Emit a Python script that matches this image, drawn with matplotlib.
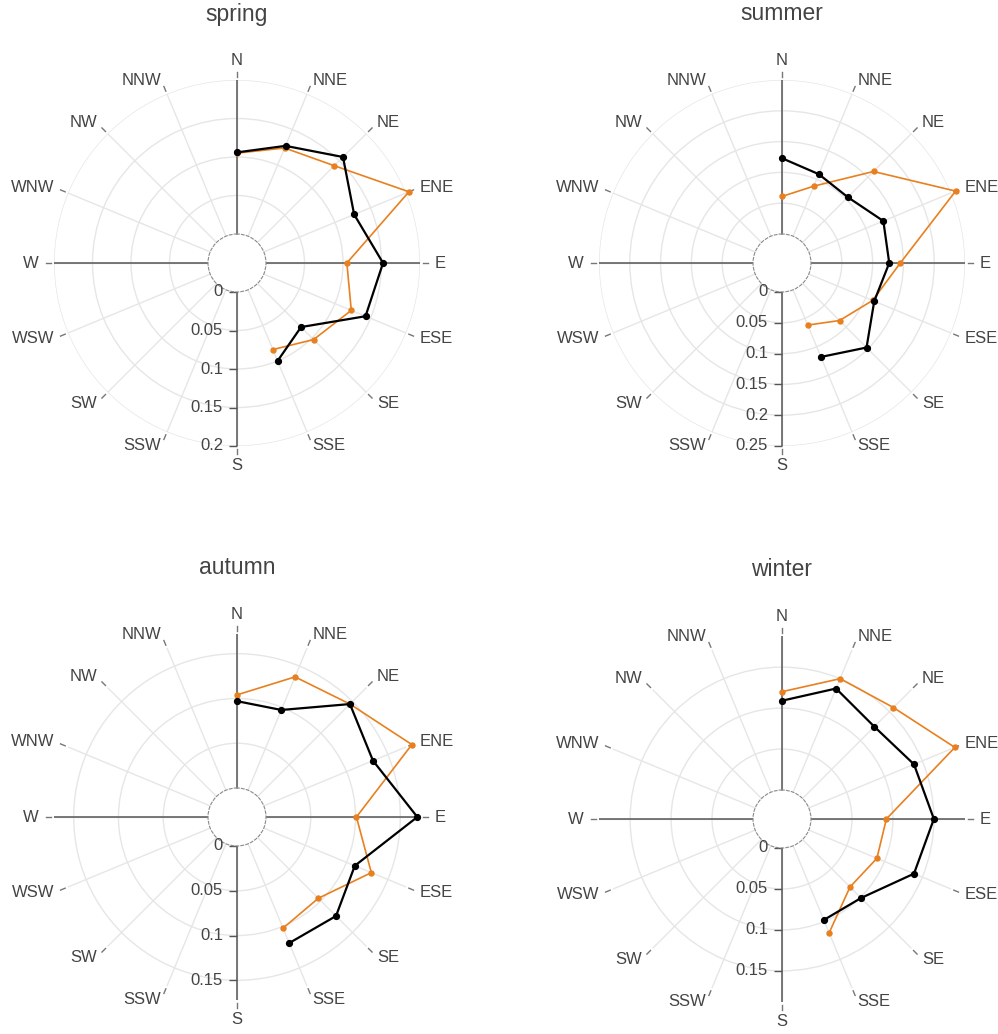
import numpy as np
import matplotlib.pyplot as plt
from matplotlib.markers import TICKLEFT

plt.rcParams['font.family'] = ['Liberation Sans', 'DejaVu Sans']

# compass directions (clockwise from north) and the ones that carry data
directions = ['N', 'NNE', 'NE', 'ENE', 'E', 'ESE', 'SE', 'SSE',
              'S', 'SSW', 'SW', 'WSW', 'W', 'WNW', 'NW', 'NNW']
measured = ['N', 'NNE', 'NE', 'ENE', 'E', 'ESE', 'SE', 'SSE']

seasons = ['spring', 'summer', 'autumn', 'winter']

spring_black = [0.106, 0.127, 0.157, 0.127, 0.152, 0.143, 0.080, 0.100]
spring_orange = [0.105, 0.124, 0.141, 0.204, 0.105, 0.123, 0.103, 0.084]
summer_black = [0.123, 0.109, 0.104, 0.131, 0.127, 0.115, 0.147, 0.118]
summer_orange = [0.061, 0.088, 0.163, 0.258, 0.145, 0.112, 0.085, 0.062]
autumn_black = [0.097, 0.097, 0.146, 0.132, 0.169, 0.110, 0.124, 0.120]
autumn_orange = [0.104, 0.137, 0.146, 0.179, 0.101, 0.130, 0.096, 0.102]
winter_black = [0.109, 0.137, 0.124, 0.139, 0.150, 0.139, 0.101, 0.098]
winter_orange = [0.120, 0.150, 0.157, 0.193, 0.092, 0.090, 0.082, 0.115]

black_series = [spring_black, summer_black, autumn_black, winter_black]
orange_series = [spring_orange, summer_orange, autumn_orange, winter_orange]

radial_max = [0.2, 0.25, 0.172, 0.188]
radial_ticks = [[0, 0.05, 0.1, 0.15, 0.2],
                [0, 0.05, 0.1, 0.15, 0.2, 0.25],
                [0, 0.05, 0.1, 0.15],
                [0, 0.05, 0.1, 0.15]]

ORANGE = '#e8801f'
TEXT = '#444444'
GRID = '#e6e6e6'

W, H = 998, 1034
R, HOLE = 183, 29          # outer radius and hole radius in pixels
centers = [(237, 263), (782, 263), (237, 817), (782, 819)]
title_y = [15, 14, 567, 570]

fig = plt.figure(figsize=(W / 100, H / 100), dpi=100)
fig.patch.set_facecolor('white')

theta_all = np.deg2rad(22.5 * np.arange(len(directions)))
theta_meas = np.array([theta_all[directions.index(d)] for d in measured])


def px_to_r(px, rmax):
    return rmax * (px - HOLE) / (R - HOLE)


for k, season in enumerate(seasons):
    cx, cy = centers[k]
    rmax = radial_max[k]
    ax = fig.add_axes([(cx - R) / W, 1 - (cy + R) / H, 2 * R / W, 2 * R / H],
                      projection='polar')
    ax.set_theta_zero_location('N')
    ax.set_theta_direction(-1)
    ax.set_ylim(0, rmax)
    ax.set_rorigin(-rmax * HOLE / (R - HOLE))

    # grid
    ax.set_xticks(theta_all)
    ax.set_xticklabels([])
    ax.set_yticks([t for t in radial_ticks[k] if t > 0])
    ax.set_yticklabels([])
    ax.grid(color=GRID, lw=1)
    ax.tick_params(length=0)
    ax.spines['polar'].set_visible(False)
    ax.spines['inner'].set_linestyle((0, (2.5, 2)))
    ax.spines['inner'].set_color('#8a8a8a')
    ax.spines['inner'].set_linewidth(0.8)

    # dark axis lines at N, E, S, W
    for t in np.deg2rad([0, 90, 180, 270]):
        ax.plot([t, t], [0, rmax], color='#555555', lw=1.1, zorder=2)

    # angular tick dashes and labels
    d0, d1 = px_to_r(186, rmax), px_to_r(191, rmax)
    for t, lab in zip(theta_all, directions):
        ax.plot([t, t], [d0, d1], color='#777777', lw=1, clip_on=False)
        s = np.sin(t)
        if s > 0.01:
            ha, va = 'left', 'center'
        elif s < -0.01:
            ha, va = 'right', 'center'
        elif np.cos(t) > 0:
            ha, va = 'center', 'bottom'
        else:
            ha, va = 'center', 'top'
        rl = px_to_r(195 if ha == 'center' else 198, rmax)
        ax.text(t, rl, lab, ha=ha, va=va, fontsize=12, color=TEXT,
                clip_on=False)

    # radial tick labels along the south axis
    ticks = radial_ticks[k]
    ax.plot([np.pi] * len(ticks), ticks, ls='none', marker=TICKLEFT, ms=5.5,
            mew=1, color='#555555', clip_on=False)
    for v in ticks:
        ax.annotate(f'{v:g}', xy=(np.pi, v), xytext=(-10, 0),
                    textcoords='offset points', ha='right', va='center',
                    fontsize=12, color=TEXT, annotation_clip=False)

    # data
    ax.plot(theta_meas, orange_series[k], color=ORANGE, lw=1.2, marker='o',
            ms=3.6, clip_on=False, zorder=5)
    ax.plot(theta_meas, black_series[k], color='black', lw=1.6, marker='o',
            ms=4.2, clip_on=False, zorder=6)

    fig.text(cx / W, 1 - title_y[k] / H, season, ha='center', va='center',
             fontsize=16.5, color=TEXT)

fig.savefig('out.png', dpi=100, facecolor='white')
